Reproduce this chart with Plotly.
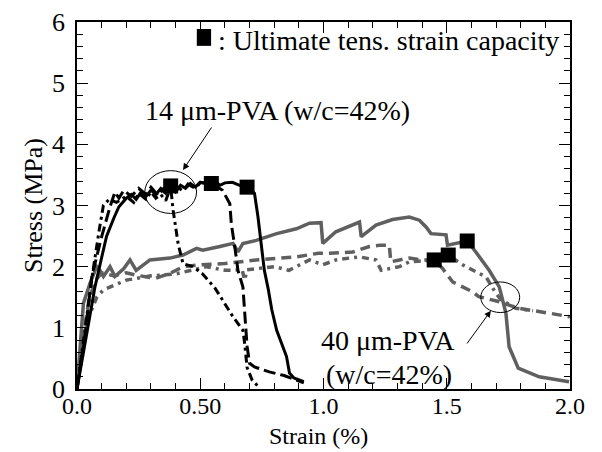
import plotly.graph_objects as go

# ---- 14 um PVA (black) ----
s14_x = [0, 0.02, 0.04, 0.073, 0.10, 0.12, 0.15, 0.17, 0.20, 0.22, 0.24, 0.26, 0.28, 0.30, 0.32, 0.34, 0.36, 0.38, 0.40, 0.42, 0.44, 0.46, 0.48, 0.50, 0.53, 0.56, 0.58, 0.60, 0.63, 0.66, 0.69, 0.72, 0.734, 0.748, 0.76, 0.775, 0.79, 0.81, 0.83, 0.85, 0.862, 0.88, 0.92]
s14_y = [0, 0.45, 0.95, 1.67, 2.15, 2.5, 2.8, 2.98, 3.12, 3.18, 3.1, 3.22, 3.15, 3.25, 3.18, 3.28, 3.2, 3.3, 3.22, 3.33, 3.28, 3.36, 3.3, 3.38, 3.35, 3.4, 3.33, 3.37, 3.38, 3.33, 3.3, 3.2, 2.82, 2.33, 1.94, 1.65, 1.3, 0.96, 0.75, 0.53, 0.26, 0.18, 0.12]

b14_x = [0, 0.03, 0.06, 0.10, 0.134, 0.154, 0.17, 0.19, 0.22, 0.25, 0.28, 0.30, 0.33, 0.35, 0.38, 0.40, 0.43, 0.45, 0.48, 0.50, 0.54, 0.59, 0.62, 0.626, 0.64, 0.653, 0.673, 0.68, 0.69, 0.70, 0.72, 0.78, 0.84, 0.88, 0.92]
b14_y = [0, 0.8, 1.84, 2.49, 2.98, 3.22, 3.12, 3.25, 3.15, 3.28, 3.18, 3.3, 3.16, 3.27, 3.2, 3.32, 3.24, 3.35, 3.28, 3.37, 3.38, 3.25, 3.03, 2.7, 2.33, 1.94, 1.67, 1.3, 0.7, 0.42, 0.36, 0.28, 0.22, 0.16, 0.1]

d14_x = [0, 0.03, 0.06, 0.09, 0.107, 0.13, 0.16, 0.20, 0.23, 0.25, 0.28, 0.30, 0.32, 0.34, 0.36, 0.38, 0.39, 0.41, 0.43, 0.47, 0.51, 0.56, 0.60, 0.633, 0.673, 0.68, 0.69, 0.71, 0.74]
d14_y = [0, 0.9, 1.8, 2.6, 3.0, 3.1, 3.05, 3.15, 3.05, 3.2, 3.1, 3.22, 3.12, 3.18, 3.08, 3.3, 2.92, 2.38, 2.05, 2.0, 1.88, 1.65, 1.4, 1.18, 0.96, 0.75, 0.35, 0.15, 0.02]

sq14_x = [0.38, 0.545, 0.69]
sq14_y = [3.32, 3.36, 3.30]

# ---- 40 um PVA (grey) ----
s40_x = [0, 0.012, 0.026, 0.053, 0.08, 0.093, 0.107, 0.134, 0.154, 0.19, 0.215, 0.24, 0.296, 0.377, 0.43, 0.485, 0.51, 0.58, 0.633, 0.653, 0.673, 0.727, 0.81, 0.89, 0.943, 0.99, 0.997, 1.05, 1.146, 1.153, 1.213, 1.28, 1.348, 1.389, 1.416, 1.436, 1.497, 1.503, 1.583, 1.618, 1.672, 1.713, 1.74, 1.753, 1.79, 1.875, 1.996]
s40_y = [0, 0.64, 1.4, 1.73, 2.0, 1.94, 1.84, 2.0, 1.84, 1.97, 2.11, 1.94, 2.11, 2.14, 2.19, 2.3, 2.27, 2.33, 2.38, 2.24, 2.38, 2.43, 2.54, 2.62, 2.71, 2.72, 2.38, 2.57, 2.73, 2.49, 2.68, 2.77, 2.81, 2.76, 2.65, 2.54, 2.52, 2.35, 2.42, 2.24, 1.94, 1.67, 1.24, 0.69, 0.34, 0.2, 0.12]

b40_x = [0, 0.02, 0.05, 0.08, 0.10, 0.15, 0.20, 0.24, 0.32, 0.377, 0.43, 0.5, 0.6, 0.727, 0.89, 0.98, 1.024, 1.119, 1.186, 1.227, 1.267, 1.273, 1.308, 1.348, 1.40, 1.449, 1.483, 1.524, 1.604, 1.63, 1.71, 1.79, 1.915, 2.0]
b40_y = [0, 0.7, 1.5, 1.8, 1.9, 1.85, 1.9, 1.86, 1.81, 1.89, 2.0, 2.03, 2.05, 2.11, 2.16, 2.22, 2.22, 2.24, 2.33, 2.35, 2.35, 2.08, 2.11, 2.14, 2.11, 2.11, 1.97, 1.75, 1.59, 1.51, 1.43, 1.32, 1.24, 1.18]

d40_x = [0, 0.02, 0.05, 0.08, 0.107, 0.15, 0.20, 0.30, 0.40, 0.525, 0.6, 0.67, 0.68, 0.69, 0.8, 0.86, 0.943, 0.997, 1.05, 1.105, 1.146, 1.213, 1.234, 1.308, 1.348, 1.42, 1.506, 1.564, 1.604, 1.66, 1.70, 1.72, 1.78, 1.85]
d40_y = [0, 0.6, 1.2, 1.5, 1.62, 1.7, 1.78, 1.85, 1.88, 2.0, 1.94, 1.95, 1.78, 1.95, 2.0, 1.94, 2.11, 2.03, 2.11, 2.14, 2.16, 2.11, 1.94, 2.0, 2.08, 2.1, 2.19, 2.03, 1.94, 1.83, 1.56, 1.46, 1.32, 1.28]

sq40_x = [1.449, 1.506, 1.583]
sq40_y = [2.11, 2.19, 2.42]

x_ticks = [0, 0.5, 1.0, 1.5, 2.0]
x_ticktext = ["0.0", "0.50", "1.0", "1.5", "2.0"]
y_ticks = [0, 1, 2, 3, 4, 5, 6]

BLACK = "#000000"
GREY = "#5f5f5f"
FONT = "Liberation Serif, Times New Roman, Times, serif"
TSIZE = 26
ASIZE = 28

fig = go.Figure()

def add_line(x, y, color, width, dash):
    fig.add_trace(go.Scatter(x=x, y=y, mode="lines",
                             line=dict(color=color, width=width, dash=dash),
                             showlegend=False, hoverinfo="skip"))

add_line(s40_x, s40_y, GREY, 3.5, "solid")
add_line(b40_x, b40_y, GREY, 3.5, "10px,6px")
add_line(d40_x, d40_y, GREY, 3.5, "3px,5px,7px,5px")
add_line(s14_x, s14_y, BLACK, 3, "solid")
add_line(b14_x, b14_y, BLACK, 3, "12px,5px")
add_line(d14_x, d14_y, BLACK, 3, "3px,4px,8px,4px")

fig.add_trace(go.Scatter(x=sq14_x + sq40_x, y=sq14_y + sq40_y, mode="markers",
                         marker=dict(symbol="square", size=15, color=BLACK,
                                     line=dict(width=0)),
                         showlegend=False, hoverinfo="skip"))

# Ellipses
fig.add_shape(type="circle", xref="x", yref="y", x0=0.275, x1=0.485, y0=2.87, y1=3.57,
              line=dict(color=BLACK, width=1))
fig.add_shape(type="circle", xref="x", yref="y", x0=1.638, x1=1.796, y0=1.25, y1=1.75,
              line=dict(color=BLACK, width=1))

# legend key square
fig.add_shape(type="rect", xref="paper", yref="paper", x0=0.243, x1=0.272, y0=0.935, y1=0.981,
              fillcolor=BLACK, line=dict(width=0))

fig.add_annotation(x=0.563, y=5.70, xref="x", yref="y", text=": Ultimate tens. strain capacity",
                   showarrow=False, xanchor="left", yanchor="middle",
                   font=dict(family=FONT, size=ASIZE, color=BLACK))
fig.add_annotation(x=0.814, y=4.56, xref="x", yref="y", text="14 \u03bcm-PVA (w/c=42%)",
                   showarrow=False, xanchor="center", yanchor="middle",
                   font=dict(family=FONT, size=ASIZE, color=BLACK))
fig.add_annotation(x=1.263, y=0.80, xref="x", yref="y", text="40 \u03bcm-PVA",
                   showarrow=False, xanchor="center", yanchor="middle",
                   font=dict(family=FONT, size=ASIZE, color=BLACK))
fig.add_annotation(x=1.267, y=0.23, xref="x", yref="y", text="(w/c=42%)",
                   showarrow=False, xanchor="center", yanchor="middle",
                   font=dict(family=FONT, size=ASIZE, color=BLACK))

# x-axis title as an annotation below the tick labels
fig.add_annotation(x=0.49, y=0, xref="paper", yref="paper", yshift=-47,
                   text="Strain (%)", showarrow=False, xanchor="center", yanchor="middle",
                   font=dict(family=FONT, size=24, color=BLACK))

# arrows
fig.add_annotation(x=0.43, y=3.58, ax=0.55, ay=4.30, xref="x", yref="y", axref="x", ayref="y",
                   text="", showarrow=True, arrowhead=2, arrowsize=1.3, arrowwidth=1, arrowcolor=BLACK)
fig.add_annotation(x=1.679, y=1.28, ax=1.578, ay=0.72, xref="x", yref="y", axref="x", ayref="y",
                   text="", showarrow=True, arrowhead=2, arrowsize=1.3, arrowwidth=1, arrowcolor=BLACK)

axis_common = dict(showline=True, linecolor=BLACK, linewidth=1.5, mirror="allticks",
                   ticks="inside", ticklen=11, tickwidth=1, tickcolor=BLACK,
                   showgrid=False, zeroline=False, automargin=False)

fig.update_xaxes(range=[0, 2.0], tickvals=x_ticks, ticktext=x_ticktext,
                 minor=dict(dtick=0.1, ticks="inside", ticklen=6, tickcolor=BLACK, tickwidth=1),
                 ticklabelstandoff=-6,
                 tickfont=dict(family=FONT, size=24, color=BLACK),
                 **axis_common)
fig.update_yaxes(range=[0, 6], tickvals=y_ticks,
                 minor=dict(dtick=0.2, ticks="inside", ticklen=6, tickcolor=BLACK, tickwidth=1),
                 title=dict(text="Stress (MPa)", font=dict(family=FONT, size=TSIZE, color=BLACK), standoff=2),
                 ticklabelstandoff=5,
                 tickfont=dict(family=FONT, size=TSIZE, color=BLACK),
                 **axis_common)

# page body has an 8px margin: figure is sized/offset so the plot area lands at 77..570 x 22..389
fig.update_layout(width=594, height=444, margin=dict(l=69, r=32, t=14, b=63),
                  paper_bgcolor="white", plot_bgcolor="white", showlegend=False)

fig.write_html("out.html")
